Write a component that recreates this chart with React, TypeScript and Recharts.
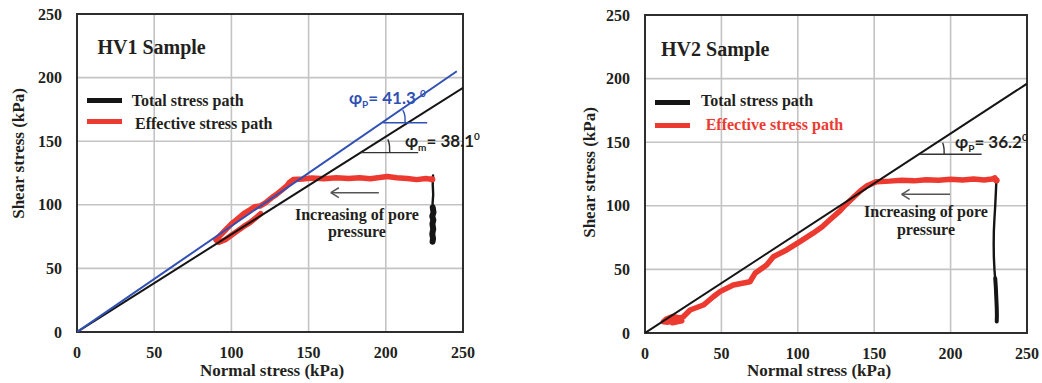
import React from 'react';
import {
  ComposedChart,
  Line,
  XAxis,
  YAxis,
  CartesianGrid,
  ReferenceLine,
  ReferenceArea,
  ReferenceDot,
  Legend,
} from 'recharts';

type Pt = { x: number; y: number };

// ---------- shared labels ----------
const AXIS_TICKS = [0, 50, 100, 150, 200, 250];
const LEGEND_LABELS = ['Total stress path', 'Effective stress path'];
const X_TITLE = 'Normal stress (kPa)';
const Y_TITLE = 'Shear stress (kPa)';
const NOTE_LINES = ['Increasing of pore', 'pressure'];

// ---------- HV1 sample ----------
const hv1Title = 'HV1 Sample';
const hv1TotalEnvelope: Pt[] = [
  { x: 0, y: 0 },
  { x: 250, y: 192 },
];
const hv1PeakEnvelope: Pt[] = [
  { x: 0, y: 0 },
  { x: 246, y: 205 },
];
const hv1TotalPath: Pt[] = [
  { x: 230.6, y: 123 }, { x: 230.4, y: 116 }, { x: 230.7, y: 108 }, { x: 230.3, y: 101 },
  { x: 230.4, y: 97 },
];
const hv1TotalPathDense: Pt[] = [
  { x: 230.4, y: 98 }, { x: 230.9, y: 94 }, { x: 230.1, y: 91 }, { x: 230.8, y: 88 },
  { x: 230.2, y: 85 }, { x: 230.7, y: 81 }, { x: 230.1, y: 77 }, { x: 230.6, y: 73.5 },
  { x: 230.3, y: 71 },
];
const hv1EffectivePath: Pt[] = [
  { x: 230, y: 120 }, { x: 226, y: 120.6 }, { x: 220, y: 119.8 }, { x: 214, y: 120.7 },
  { x: 207, y: 121.2 }, { x: 201, y: 122.3 }, { x: 196, y: 121.4 }, { x: 190, y: 120.5 },
  { x: 183, y: 121.3 }, { x: 176, y: 120.6 }, { x: 168, y: 121.2 }, { x: 160, y: 120.4 },
  { x: 152, y: 121 }, { x: 146, y: 120.3 }, { x: 140, y: 119.8 }, { x: 137.5, y: 117.5 },
  { x: 136, y: 115 }, { x: 133, y: 112 }, { x: 129, y: 108 }, { x: 126, y: 105.5 },
  { x: 122, y: 101.5 }, { x: 118.5, y: 99 }, { x: 115, y: 98.5 }, { x: 112, y: 96 },
  { x: 108, y: 93 }, { x: 104, y: 89 }, { x: 100, y: 85 }, { x: 96, y: 80 },
  { x: 92, y: 75 }, { x: 90, y: 72.5 }, { x: 92, y: 70.5 }, { x: 96, y: 72.5 },
  { x: 100, y: 76 }, { x: 104, y: 79.5 }, { x: 108, y: 83 }, { x: 112, y: 86 },
  { x: 116, y: 90 }, { x: 119, y: 93 },
];
const hv1PeakArc: Pt[] = [
  { x: 211, y: 174.5 }, { x: 212.4, y: 169.5 }, { x: 212.5, y: 164.5 },
];
const hv1MobArc: Pt[] = [
  { x: 201.3, y: 151.4 }, { x: 202.4, y: 146.5 }, { x: 202.5, y: 141 },
];

// ---------- HV2 sample ----------
const hv2Title = 'HV2 Sample';
const hv2Envelope: Pt[] = [
  { x: 0, y: 0 },
  { x: 250, y: 196 },
];
const hv2TotalPath: Pt[] = [
  { x: 230, y: 121 }, { x: 229.6, y: 110 }, { x: 229.2, y: 100 }, { x: 228.7, y: 90 },
  { x: 228.3, y: 80 }, { x: 228.2, y: 70 }, { x: 228.3, y: 60 }, { x: 228.7, y: 50 },
  { x: 229.2, y: 42 },
];
const hv2TotalPathDense: Pt[] = [
  { x: 229.2, y: 43 }, { x: 229.6, y: 36 }, { x: 229.9, y: 28 }, { x: 230.2, y: 20 },
  { x: 230.3, y: 14 }, { x: 230.2, y: 9 },
];
const hv2EffectivePath: Pt[] = [
  { x: 230, y: 120 }, { x: 229, y: 122 }, { x: 227, y: 121 }, { x: 222, y: 120.3 },
  { x: 215, y: 121 }, { x: 208, y: 120.2 }, { x: 200, y: 120.8 }, { x: 192, y: 120 },
  { x: 184, y: 120.5 }, { x: 176, y: 119.6 }, { x: 168, y: 120 }, { x: 160, y: 119.4 },
  { x: 151.6, y: 119 }, { x: 145, y: 115.5 }, { x: 140.7, y: 111.5 }, { x: 136.3, y: 106.5 },
  { x: 131, y: 100.5 }, { x: 127.6, y: 96 }, { x: 121, y: 89 }, { x: 116, y: 83.5 },
  { x: 110, y: 78.5 }, { x: 101.4, y: 71.8 }, { x: 92.7, y: 65.3 }, { x: 84, y: 60 },
  { x: 79.6, y: 53.5 }, { x: 72, y: 46.9 }, { x: 68.7, y: 40.3 }, { x: 57.8, y: 37.7 },
  { x: 49.1, y: 32.5 }, { x: 44.7, y: 28.5 }, { x: 38.2, y: 22 }, { x: 29.5, y: 18.1 },
  { x: 25.1, y: 12.8 }, { x: 20, y: 10 }, { x: 15, y: 8.5 }, { x: 12, y: 8.8 },
  { x: 14, y: 11 }, { x: 18, y: 13 }, { x: 22, y: 12 }, { x: 24, y: 9.5 }, { x: 18, y: 8 },
];
const hv2Arc: Pt[] = [
  { x: 194.8, y: 149.6 }, { x: 195.7, y: 145 }, { x: 195.8, y: 140.5 },
];

// ---------- styling ----------
const RED = '#ec3a31';
const BLUE = '#3050b4';
const BLACK = '#151515';
const GRID = '#c4c4c4';
const TEXT = '#231f20';
const SERIF = '"Liberation Serif", "Times New Roman", serif';
const SANS = 'Lato, "Open Sans", sans-serif';

const tickStyle = { fill: TEXT, fontSize: 16, fontWeight: 'bold', fontFamily: SERIF };

function anchorLabel(render: (x: number, y: number) => React.ReactNode) {
  return (p: any) => {
    const vb = (p && p.viewBox) || {};
    const x = (vb.x ?? 0) + (vb.width ?? 0) / 2;
    const y = (vb.y ?? 0) + (vb.height ?? 0) / 2;
    return <g>{render(x, y)}</g>;
  };
}

function phiText(x: number, y: number, sub: string, value: string, sup: string, color: string) {
  return (
    <text x={x} y={y} fill={color} fontFamily={SANS} fontWeight="bold" fontSize={17}>
      <tspan>φ</tspan>
      <tspan fontSize={10} dy={4}>{sub}</tspan>
      <tspan fontSize={17} dy={-4}>{value}</tspan>
      <tspan fontSize={10} dy={-7}>{sup}</tspan>
    </text>
  );
}

type PhiNote = { at: Pt; sub: string; value: string; sup: string; color: string };

type PanelCfg = {
  left: number;
  width: number;
  margin: { top: number; right: number; bottom: number; left: number };
  title: string;
  titleAt: Pt;
  envelopes: { data: Pt[]; color: string }[];
  totalPath: Pt[];
  totalPathDense: Pt[];
  denseWidth: number;
  effectivePath: Pt[];
  markers: { from: Pt; to: Pt; arc: Pt[]; color: string }[];
  phis: PhiNote[];
  arrow: { from: Pt; to: Pt; headDx: number; headDy: number };
  noteCenterX: number;
  noteBaselines: number[];
  legendLeft: number;
  legendTop: number;
  legendRows: { sampleTop: number; textLeft: number; textTop: number; textColor: string }[];
  xTitleDx: number;
  xTitleDy: number;
  yTitleDx: number;
  yTitleY: number;
};

const LegendBox = ({ cfg }: { cfg: PanelCfg }) => (
  <div style={{ position: 'relative', width: 240, height: 46 }}>
    {cfg.legendRows.map((r, i) => (
      <React.Fragment key={i}>
        <div
          style={{
            position: 'absolute',
            left: 0,
            top: r.sampleTop,
            width: 35,
            height: 5,
            background: i === 0 ? BLACK : RED,
          }}
        />
        <div
          style={{
            position: 'absolute',
            left: r.textLeft,
            top: r.textTop,
            fontFamily: SERIF,
            fontWeight: 'bold',
            fontSize: 16,
            lineHeight: '16px',
            whiteSpace: 'nowrap',
            color: r.textColor,
          }}
        >
          {LEGEND_LABELS[i]}
        </div>
      </React.Fragment>
    ))}
  </div>
);

const Panel = ({ cfg }: { cfg: PanelCfg }) => (
  <div style={{ position: 'absolute', left: cfg.left, top: 0 }}>
    <ComposedChart width={cfg.width} height={383} margin={cfg.margin}>
      <CartesianGrid stroke={GRID} strokeWidth={1.6} />
      <XAxis
        type="number"
        dataKey="x"
        domain={[0, 250]}
        ticks={AXIS_TICKS}
        interval={0}
        allowDataOverflow
        axisLine={false}
        tickLine={false}
        tickSize={0}
        tickMargin={15}
        height={40}
        tick={tickStyle}
        label={(p: any) => {
          const vb = p.viewBox || {};
          const x = vb.x + vb.width / 2 + cfg.xTitleDx;
          const y = vb.y + cfg.xTitleDy;
          return (
            <text x={x} y={y} textAnchor="middle" fill={TEXT} fontFamily={SERIF} fontWeight="bold" fontSize={17}>
              {X_TITLE}
            </text>
          );
        }}
      />
      <YAxis
        type="number"
        domain={[0, 250]}
        ticks={AXIS_TICKS}
        interval={0}
        allowDataOverflow
        axisLine={false}
        tickLine={false}
        tickSize={0}
        tickMargin={15}
        width={60}
        tick={tickStyle}
        label={(p: any) => {
          const vb = p.viewBox || {};
          const x = vb.x + cfg.yTitleDx;
          const y = cfg.yTitleY;
          return (
            <text
              x={x}
              y={y}
              transform={`rotate(-90, ${x}, ${y})`}
              textAnchor="middle"
              fill={TEXT}
              fontFamily={SERIF}
              fontWeight="bold"
              fontSize={17}
            >
              {Y_TITLE}
            </text>
          );
        }}
      />
      <ReferenceArea x1={0} x2={250} y1={0} y2={250} fill="none" stroke="#2e2e2e" strokeWidth={2} ifOverflow="visible" />

      <Line
        data={cfg.effectivePath}
        dataKey="y"
        stroke={RED}
        strokeWidth={5.5}
        strokeLinejoin="round"
        strokeLinecap="round"
        dot={false}
        isAnimationActive={false}
      />
      {cfg.envelopes.map((e, i) => (
        <Line
          key={`env${i}`}
          data={e.data}
          dataKey="y"
          stroke={e.color}
          strokeWidth={2}
          dot={false}
          isAnimationActive={false}
        />
      ))}
      <Line
        data={cfg.totalPath}
        dataKey="y"
        stroke={BLACK}
        strokeWidth={2.4}
        strokeLinejoin="round"
        strokeLinecap="round"
        dot={false}
        isAnimationActive={false}
      />
      <Line
        data={cfg.totalPathDense}
        dataKey="y"
        stroke={BLACK}
        strokeWidth={cfg.denseWidth}
        strokeLinejoin="round"
        strokeLinecap="round"
        dot={false}
        isAnimationActive={false}
      />
      {cfg.markers.map((m, i) => (
        <Line
          key={`arc${i}`}
          data={m.arc}
          dataKey="y"
          type="monotone"
          stroke={m.color}
          strokeWidth={1.4}
          dot={false}
          isAnimationActive={false}
        />
      ))}
      {cfg.markers.map((m, i) => (
        <ReferenceLine key={`mk${i}`} segment={[m.from, m.to]} stroke={m.color} strokeWidth={1.4} />
      ))}

      <ReferenceLine segment={[cfg.arrow.from, cfg.arrow.to]} stroke="#555" strokeWidth={1.5} />
      <ReferenceLine
        segment={[cfg.arrow.to, { x: cfg.arrow.to.x + cfg.arrow.headDx, y: cfg.arrow.to.y + cfg.arrow.headDy }]}
        stroke="#555"
        strokeWidth={1.5}
      />
      <ReferenceLine
        segment={[cfg.arrow.to, { x: cfg.arrow.to.x + cfg.arrow.headDx, y: cfg.arrow.to.y - cfg.arrow.headDy }]}
        stroke="#555"
        strokeWidth={1.5}
      />

      <ReferenceDot
        x={cfg.titleAt.x}
        y={cfg.titleAt.y}
        r={1}
        fill="none"
        stroke="none"
        label={anchorLabel((x, y) => (
          <text x={x} y={y} fill={TEXT} fontFamily={SERIF} fontWeight="bold" fontSize={20}>
            {cfg.title}
          </text>
        ))}
      />
      {cfg.phis.map((ph, i) => (
        <ReferenceDot
          key={`phi${i}`}
          x={ph.at.x}
          y={ph.at.y}
          r={1}
          fill="none"
          stroke="none"
          label={anchorLabel((x, y) => phiText(x, y, ph.sub, ph.value, ph.sup, ph.color))}
        />
      ))}
      {NOTE_LINES.map((line, i) => (
        <ReferenceDot
          key={`note${i}`}
          x={cfg.noteCenterX}
          y={cfg.noteBaselines[i]}
          r={1}
          fill="none"
          stroke="none"
          label={anchorLabel((x, y) => (
            <text x={x} y={y} textAnchor="middle" fill={TEXT} fontFamily={SERIF} fontWeight="bold" fontSize={16}>
              {line}
            </text>
          ))}
        />
      ))}
      <ReferenceDot x={230} y={120} r={3.2} fill={RED} stroke="none" />

      <Legend
        layout="vertical"
        verticalAlign="middle"
        align="center"
        wrapperStyle={{ position: 'absolute', left: cfg.legendLeft, top: cfg.legendTop, width: 240, height: 46 }}
        content={() => <LegendBox cfg={cfg} />}
      />
    </ComposedChart>
  </div>
);

const hv1Cfg: PanelCfg = {
  left: 0,
  width: 520,
  margin: { top: 14, right: 57, bottom: 11, left: 17 },
  title: hv1Title,
  titleAt: { x: 13.2, y: 218.6 },
  envelopes: [
    { data: hv1TotalEnvelope, color: BLACK },
    { data: hv1PeakEnvelope, color: BLUE },
  ],
  totalPath: hv1TotalPath,
  totalPathDense: hv1TotalPathDense,
  denseWidth: 6,
  effectivePath: hv1EffectivePath,
  markers: [
    { from: { x: 198.3, y: 164.5 }, to: { x: 226.8, y: 164.5 }, arc: hv1PeakArc, color: BLUE },
    { from: { x: 184, y: 141 }, to: { x: 221, y: 141 }, arc: hv1MobArc, color: '#333' },
  ],
  phis: [
    { at: { x: 176.1, y: 179.3 }, sub: 'P', value: '= 41.3 ', sup: '0', color: BLUE },
    { at: { x: 212.4, y: 145.7 }, sub: 'm', value: '= 38.1', sup: '0', color: TEXT },
  ],
  arrow: { from: { x: 195.5, y: 109.5 }, to: { x: 164.4, y: 109.5 }, headDx: 5.2, headDy: 3.9 },
  noteCenterX: 181.3,
  noteBaselines: [88, 74.4],
  legendLeft: 86.7,
  legendTop: 90,
  legendRows: [
    { sampleTop: 8.3, textLeft: 45, textTop: 2.6, textColor: TEXT },
    { sampleTop: 28.5, textLeft: 48.3, textTop: 26, textColor: TEXT },
  ],
  xTitleDx: 2,
  xTitleDy: 43.5,
  yTitleDx: 6.5,
  yTitleY: 153.5,
};

const hv2Cfg: PanelCfg = {
  left: 520,
  width: 522,
  margin: { top: 15, right: 15, bottom: 10, left: 65 },
  title: hv2Title,
  titleAt: { x: 10.5, y: 217.8 },
  envelopes: [{ data: hv2Envelope, color: BLACK }],
  totalPath: hv2TotalPath,
  totalPathDense: hv2TotalPathDense,
  denseWidth: 4,
  effectivePath: hv2EffectivePath,
  markers: [{ from: { x: 180, y: 140.5 }, to: { x: 220.3, y: 140.5 }, arc: hv2Arc, color: '#333' }],
  phis: [{ at: { x: 202.9, y: 145.2 }, sub: 'P', value: '= 36.2', sup: '0', color: TEXT }],
  arrow: { from: { x: 199.6, y: 109 }, to: { x: 168, y: 109 }, headDx: 5.2, headDy: 3.9 },
  noteCenterX: 183.9,
  noteBaselines: [91.4, 77],
  legendLeft: 135,
  legendTop: 90,
  legendRows: [
    { sampleTop: 10, textLeft: 46, textTop: 3.3, textColor: TEXT },
    { sampleTop: 32.7, textLeft: 50.7, textTop: 26.6, textColor: RED },
  ],
  xTitleDx: -17,
  xTitleDy: 43,
  yTitleDx: 9.5,
  yTitleY: 172.5,
};

export default function App() {
  return (
    <div style={{ position: 'absolute', left: 0, top: 0, width: 1042, height: 383, background: '#fff', overflow: 'hidden' }}>
      <Panel cfg={hv1Cfg} />
      <Panel cfg={hv2Cfg} />
    </div>
  );
}
